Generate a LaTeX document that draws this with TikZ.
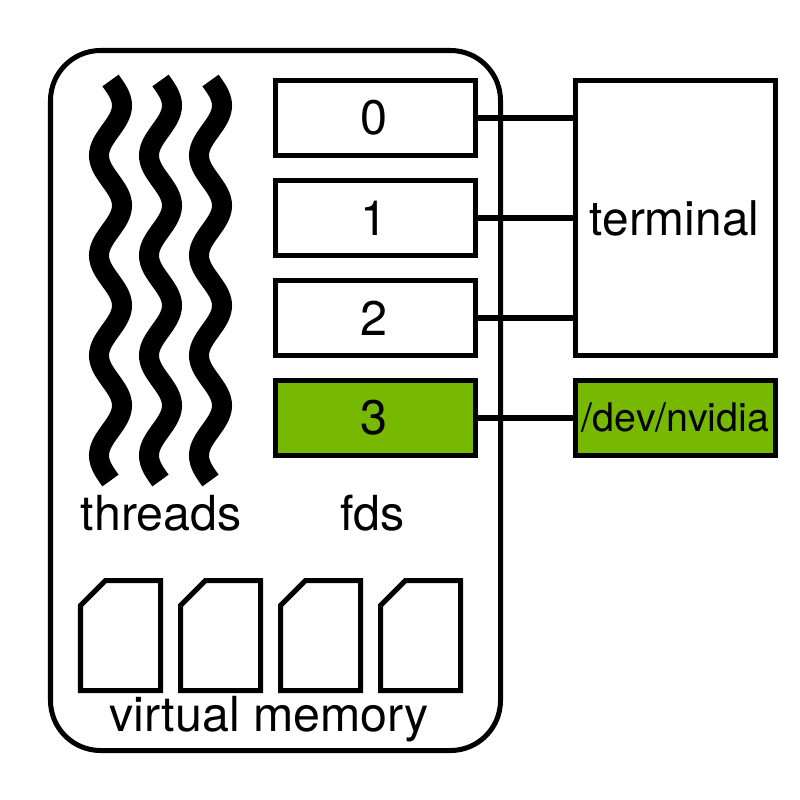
\documentclass[tikz,border=0pt]{standalone}
\usepackage{fontspec}
\setmainfont{TeX Gyre Heros}
\definecolor{nvgreen}{HTML}{76B900}
\begin{document}
\begin{tikzpicture}[x=0.01cm,y=-0.01cm,
  every node/.style={inner sep=0pt,outer sep=0pt},
  stroke/.style={draw=black,line width=0.05cm},
  box/.style={stroke,fill=white,minimum width=2cm,minimum height=0.75cm,font=\fontsize{13.8pt}{13.8pt}\selectfont},
  greenbox/.style={box,fill=nvgreen},
  label/.style={font=\fontsize{13.75pt}{13.75pt}\selectfont,anchor=base},
  thread/.style={line width=0.2cm,line cap=butt},
  page/.style={stroke,fill=white,line join=miter},
  conn/.style={draw=black,line width=0.057cm,line cap=butt}]
\useasboundingbox (0,0) rectangle (800,800);
\begin{scope}[shift={(0.5,0.5)}]
\draw[stroke,fill=white,rounded corners=0.5cm] (50,50) rectangle (500,750);
\foreach \tx in {110,160,210}
  \draw[thread] plot[domain=80:480,samples=161,smooth] ({\tx+11.5*sin(3.6*(\x-80))},\x);
\node[box] (f0) at (375,117.5) {0\kern0.04cm};
\node[box] (f1) at (375,217.5) {1\kern0.04cm};
\node[box] (f2) at (375,317.5) {2\kern0.04cm};
\node[greenbox] (f3) at (375,417.5) {3\kern0.04cm};
\node[stroke,fill=white,minimum width=2cm,minimum height=2.75cm,font=\fontsize{13.6pt}{13.6pt}\selectfont] (term) at (675,217.5) {terminal\kern0.02cm};
\node[greenbox,font=\fontsize{11.2pt}{11.2pt}\selectfont] (nv) at (675,417.5) {/dev/nvidia};
\draw[conn] (f0.east) -- (f0.east -| term.west);
\draw[conn] (f1.east) -- (f1.east -| term.west);
\draw[conn] (f2.east) -- (f2.east -| term.west);
\draw[conn] (f3.east) -- (nv.west);
\node[label] (threads) at (160.7,530) {threads};
\node[label] (fds) at (372,530) {fds};
\node[label] (vm) at (268.7,731) {virtual memory};
\foreach \px in {80,180,280,380}
  \draw[page] (\px+25,580) -- (\px+80,580) -- (\px+80,690) -- (\px,690) -- (\px,605) -- cycle;
\end{scope}
\end{tikzpicture}
\end{document}
